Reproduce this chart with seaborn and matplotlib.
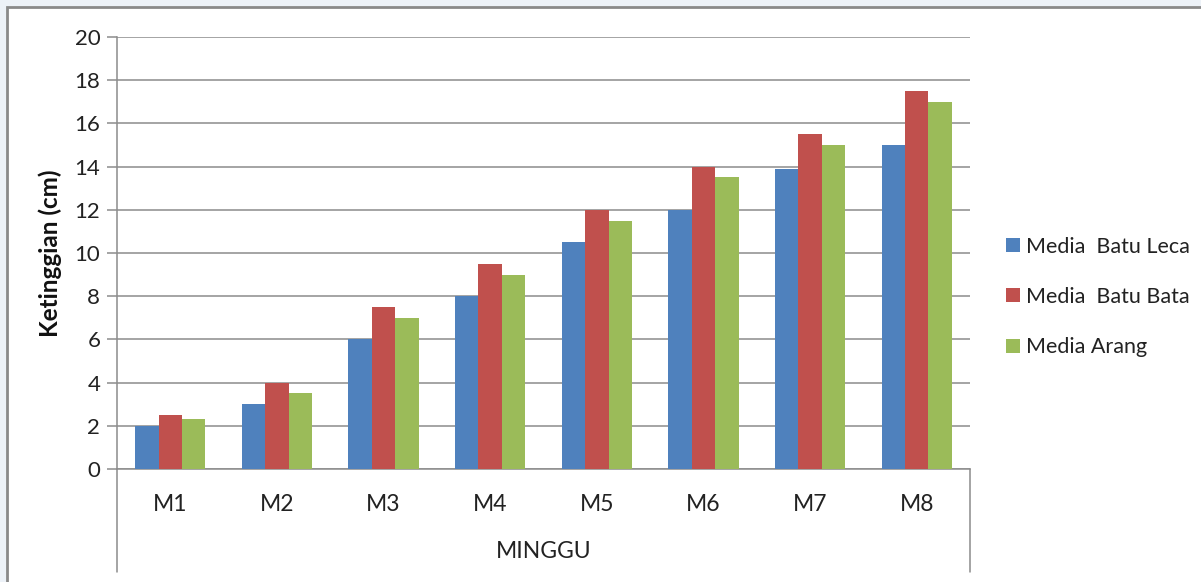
import matplotlib
matplotlib.use("Agg")
import matplotlib.pyplot as plt
import seaborn as sns
import pandas as pd
from matplotlib.patches import Rectangle

# Plant height per week for three growing media
weeks = ["M1", "M2", "M3", "M4", "M5", "M6", "M7", "M8"]
batu_leca = [2, 3, 6, 8, 10.5, 12, 13.9, 15]
batu_bata = [2.5, 4, 7.5, 9.5, 12, 14, 15.5, 17.5]
arang = [2.3, 3.5, 7, 9, 11.5, 13.5, 15, 17]
series_names = ["Media  Batu Leca", "Media  Batu Bata", "Media Arang"]
colors = ["#4F81BD", "#C0504D", "#9BBB59"]
yticks = [0, 2, 4, 6, 8, 10, 12, 14, 16, 18, 20]

rows = []
for name, vals in zip(series_names, [batu_leca, batu_bata, arang]):
    for w, v in zip(weeks, vals):
        rows.append({"week": w, "media": name, "height": v})
df = pd.DataFrame(rows)

sns.set_theme(style="white")
plt.rcParams["font.family"] = ["Lato", "DejaVu Sans"]

W, H = 1201, 582
fig = plt.figure(figsize=(W / 100, H / 100), dpi=100)
fig.patch.set_facecolor("#edf2f8")

# white chart frame behind the axes
frame = Rectangle((7 / W, -0.01), 1.02, 1 - 7 / H + 0.01,
                  transform=fig.transFigure, facecolor="white",
                  edgecolor="#8a8a8a", linewidth=2.0, zorder=-5)
fig.add_artist(frame)

x0, x1, ytop, ybot = 117, 970, 37, 469
ax = fig.add_axes([x0 / W, 1 - ybot / H, (x1 - x0) / W, (ybot - ytop) / H])
ax.set_zorder(2)
ax.set_facecolor("none")

sns.barplot(data=df, x="week", y="height", hue="media", palette=colors,
            width=0.66, gap=0, saturation=1, edgecolor="none", ax=ax,
            legend=True, zorder=3)

ax.set_ylim(0, 20)
ax.set_xlim(-0.5, len(weeks) - 0.5)
ax.set_yticks(yticks)
ax.set_yticklabels([str(t) for t in yticks], fontsize=16, color="#222222")
ax.tick_params(axis="y", length=7, width=1.1, color="#8c8c8c", pad=5, left=True)
ax.tick_params(axis="x", length=0, labelsize=16.5, labelcolor="#222222", pad=18)
ax.yaxis.grid(True, color="#8c8c8c", linewidth=1.1, zorder=0)
ax.set_axisbelow(True)

for s in ["top", "right"]:
    ax.spines[s].set_visible(False)
for s in ["left", "bottom"]:
    ax.spines[s].set_color("#8c8c8c")
    ax.spines[s].set_linewidth(1.1)

# category box lines running below the axis
drop = -(572 - ybot) / (ybot - ytop)
ax.plot([0, 0], [0, drop], transform=ax.transAxes, color="#8c8c8c",
        lw=1.1, clip_on=False)
ax.plot([1, 1], [0, drop], transform=ax.transAxes, color="#8c8c8c",
        lw=1.1, clip_on=False)

ax.set_xlabel("MINGGU", fontsize=16.5, color="#222222")
ax.xaxis.label.set_va("center")
ax.xaxis.set_label_coords(0.5, -(552 - ybot) / (ybot - ytop))
ax.set_ylabel("Ketinggian (cm)", fontsize=17.5, fontweight="bold",
              color="#111111")
ax.yaxis.label.set_va("center")
ax.yaxis.set_label_coords(-(x0 - 50) / (x1 - x0), 0.5)

leg = ax.legend(loc="center left", bbox_to_anchor=(1.02, (ybot - 297) / (ybot - ytop)),
                frameon=False, fontsize=15.5, handlelength=0.62, handleheight=0.62,
                handletextpad=0.3, labelspacing=1.4)
for t in leg.get_texts():
    t.set_color("#222222")

fig.savefig("out.png", dpi=100, facecolor=fig.get_facecolor())
